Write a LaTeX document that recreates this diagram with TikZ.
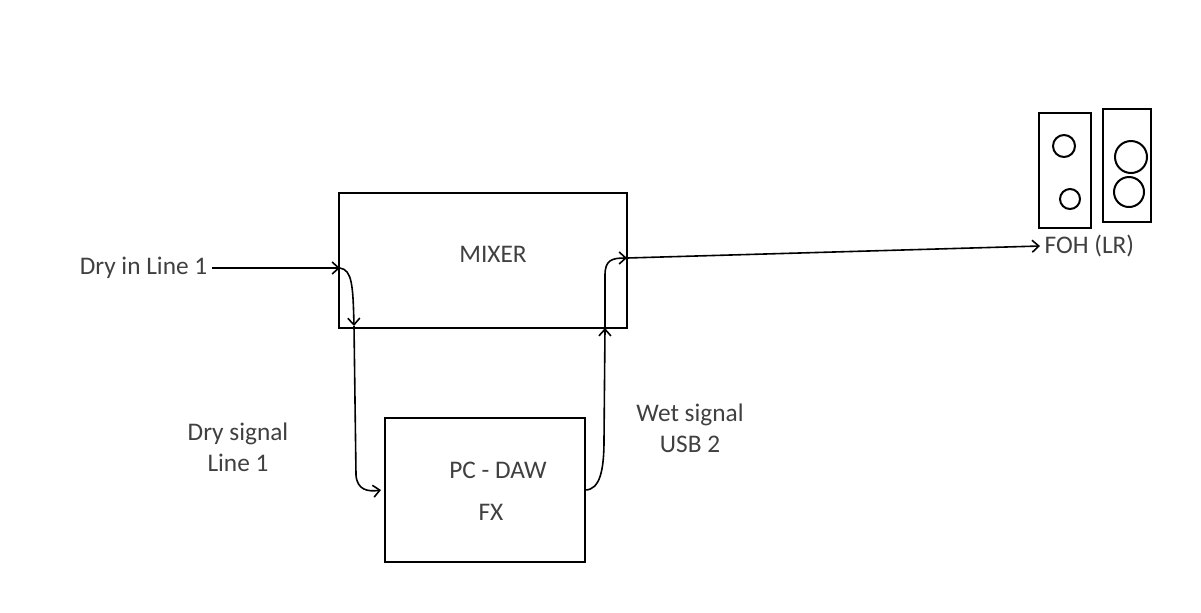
\documentclass[tikz,border=0pt]{standalone}
\usepackage{fontspec}
\setmainfont{Carlito}
\usetikzlibrary{arrows.meta}
\begin{document}
\begin{tikzpicture}[x=0.75pt,y=0.75pt,yscale=-1,xscale=1,
  box/.style={draw,line width=1.5pt,inner sep=0pt},
  lbl/.style={font=\fontsize{19}{23}\selectfont,text=black!75,align=center},
  sig/.style={line width=1.2pt,-{Straight Barb[length=5pt,width=9pt]}}]
\useasboundingbox (0,0) rectangle (1201,612);

% Boxes
\draw[box] (339,193) rectangle (627,328);
\draw[box] (385,418) rectangle (585,562);
\draw[box] (1039,113) rectangle (1091,228);
\draw[box] (1103,109) rectangle (1151,222);
\draw[line width=1.5pt] (1064,146) circle [radius=11];
\draw[line width=1.5pt] (1070,199) circle [radius=10];
\draw[line width=1.5pt] (1131,157) circle [radius=16];
\draw[line width=1.5pt] (1129,192) circle [radius=15];

% Text Node
\node[lbl] (mixer) at (493,254) {MIXER};
\node[lbl] (daw) at (498,470) {PC - DAW};
\node[lbl] (fx) at (491,512) {FX};
\node[lbl,anchor=east] (dryin) at (212,268) {Dry in Line 1};
\node[lbl] (drysig) at (238,447) {Dry signal\\Line 1};
\node[lbl] (wetsig) at (690,428) {Wet signal\\USB 2};
\node[lbl,anchor=west] (foh) at (1040,246) {FOH (LR)};

% Connector points
\coordinate (mixin) at (340,268);
\coordinate (mixdry) at (354,326);
\coordinate (dawin) at (381,490);
\coordinate (dawout) at (585,490);
\coordinate (mixwet) at (605,328);
\coordinate (mixout) at (627,258);

% Signals
\draw[sig] (dryin) -- (mixin);
\draw[sig] (mixin) .. controls (352,270) and (353,285) .. (mixdry);
\draw[line width=1.2pt] (mixdry) -- (356,475);
\draw[sig] (356,475) .. controls (357,490) and (368,492) .. (dawin);
\draw[sig] (dawout) .. controls (600,490) and (604,470) .. (604,440) -- (mixwet);
\draw[sig] (mixwet) -- (605,275) .. controls (605,260) and (612,258) .. (mixout);
\draw[sig] (mixout) -- (foh.west);
\end{tikzpicture}
\end{document}
